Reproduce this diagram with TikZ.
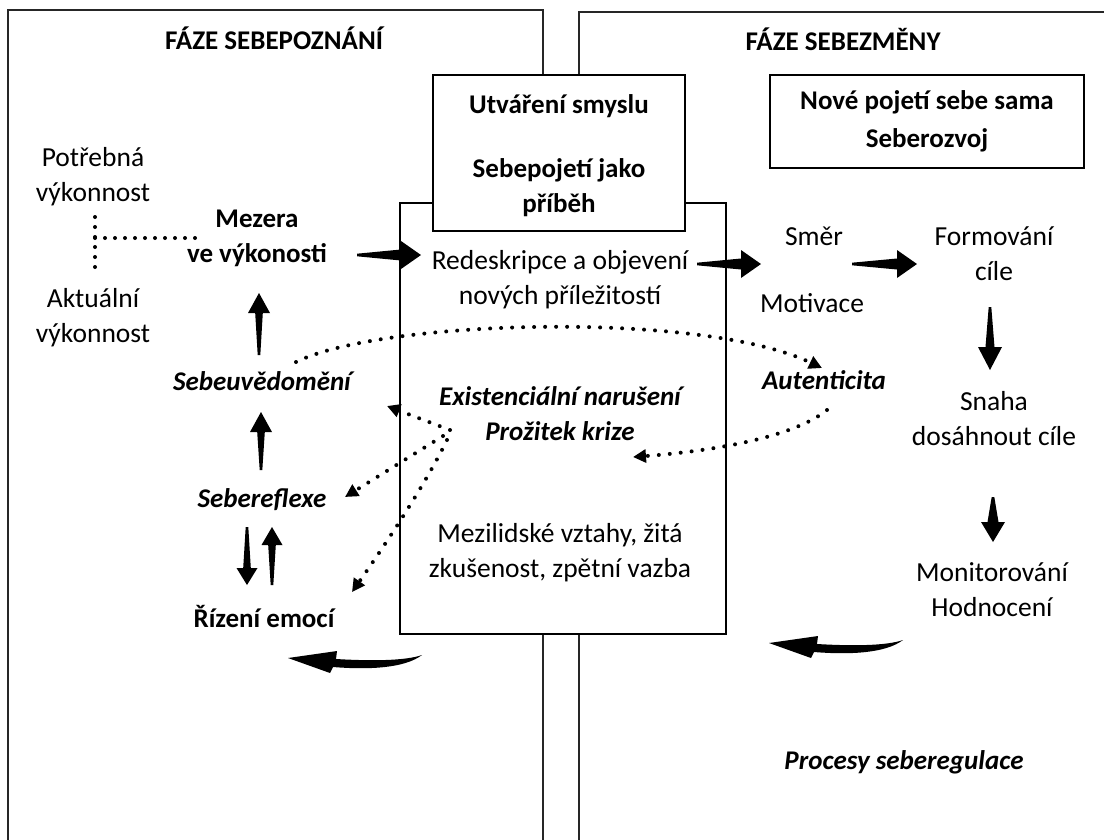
\documentclass[tikz,border=0pt]{standalone}
\usepackage{fontspec}
\setmainfont{Carlito}
\usetikzlibrary{arrows.meta,calc}

\tikzset{
  txt/.style={font=\fontsize{27.5}{35}\selectfont, align=center, inner sep=0pt},
  btxt/.style={txt, font=\fontsize{27}{35}\selectfont\bfseries},
  bitxt/.style={txt, font=\fontsize{27}{35}\selectfont\bfseries\itshape},
  phase/.style={line width=1.3pt, draw=black!85},
  framebox/.style={draw, line width=2pt, inner sep=0pt},
  dotline/.style={line width=4pt, line cap=round, dash pattern=on 0pt off 11pt},
  dotarrow/.style={dotline, -{Triangle[length=13pt,width=13pt]}},
  curvarr/.pic={\fill (0,0) -- (49,-7) -- (48,1) .. controls (82,3) and (117,3) .. (134,-3)
        .. controls (117,10) and (82,12) .. (45,9) -- (42,15) -- cycle;}
}

% tapered thick arrow: start, end, head length, head half width, shaft half width
\newcommand{\fatarrow}[5]{%
  \path let \p1=(#1), \p2=(#2), \n1={atan2(\y2-\y1,\x2-\x1)}, \n2={veclen(\x2-\x1,\y2-\y1)} in
    \pgfextra{\xdef\fatang{\n1}\xdef\fatlen{\n2}\xdef\fatx{\x1}\xdef\faty{\y1}};
  \begin{scope}[shift={(\fatx,\faty)}, rotate=\fatang]
    \fill (0,1.3) -- (0,-1.3) -- (\fatlen-#3,-#5) -- (\fatlen-#3,-#4) -- (\fatlen,0)
      -- (\fatlen-#3,#4) -- (\fatlen-#3,#5) -- cycle;
  \end{scope}
}

\begin{document}
\begin{tikzpicture}[x=1pt, y=-1pt]
\useasboundingbox (0,0) rectangle (1104,839);
\fill[white] (0,0) rectangle (1104,839);
\clip (0,0) rectangle (1104,839);

% phase frames
\draw[phase] (8,850) -- (8,10) -- (543,10) -- (543,850);
\draw[phase] (579,850) -- (579,12) -- (1115,12);

\node[btxt] (t1) at (274,38) {FÁZE SEBEPOZNÁNÍ};
\node[btxt] (t2) at (843,39) {FÁZE SEBEZMĚNY};

% central boxes
\node[draw, fill=white, line width=1.4pt, minimum width=326pt, minimum height=431pt, inner sep=0pt] (tall) at (563,418.5) {};
\node[framebox, fill=white, minimum width=252pt, minimum height=156pt] (ub) at (559,153) {};
\node[btxt] (ubt) at (559,156) {\strut Utváření smyslu\\[29pt]\strut Sebepojetí jako\\\strut příběh};
\node[framebox, btxt, minimum width=314pt, minimum height=93pt] (nb) at (927,121.5)
  {\strut Nové pojetí sebe sama\\[3pt]\strut Seberozvoj};

% left column
\node[txt] (pv) at (93,177) {\strut Potřebná\\\strut výkonnost};
\node[txt] (av) at (93,318) {\strut Aktuální\\\strut výkonnost};
\node[btxt] (mez) at (257,238) {\strut Mezera\\\strut ve výkonosti};
\node[bitxt] (seu) at (262,383) {\strut Sebeuvědomění};
\node[bitxt] (ser) at (262,500) {\strut Sebereflexe};
\node[btxt] (riz) at (264,620) {\strut Řízení emocí};

% middle
\node[txt] (red) at (560,280) {\strut Redeskripce a objevení\\\strut nových příležitostí};
\node[bitxt] (exi) at (560,416) {\strut Existenciální narušení\\\strut Prožitek krize};
\node[txt] (mzl) at (560,553) {\strut Mezilidské vztahy, žitá\\\strut zkušenost, zpětní vazba};

% right column
\node[txt] (smer) at (814,238) {\strut Směr};
\node[txt] (mot) at (812,305) {\strut Motivace};
\node[txt] (form) at (994,256) {\strut Formování\\\strut cíle};
\node[bitxt] (aut) at (824,382) {\strut Autenticita};
\node[txt] (snaha) at (994,421) {\strut Snaha\\\strut dosáhnout cíle};
\node[txt] (mon) at (992,592) {\strut Monitorování\\\strut Hodnocení};
\node[bitxt] (proc) at (904,762) {\strut Procesy seberegulace};

% connector end points
\coordinate (tv1) at (95,217);
\coordinate (tv2) at (95,273);
\coordinate (tj) at (95,238);
\coordinate (th) at (196,238);

\coordinate (a1s) at (357,255);  \coordinate (a1e) at (421,255);
\coordinate (a2s) at (697,264);  \coordinate (a2e) at (761,264);
\coordinate (a3s) at (852,264);  \coordinate (a3e) at (917,264);
\coordinate (a4s) at (990,307);  \coordinate (a4e) at (990,370);
\coordinate (a5s) at (993,497);  \coordinate (a5e) at (993,542);
\coordinate (a6s) at (259,355);  \coordinate (a6e) at (259,293);
\coordinate (a7s) at (261,470);  \coordinate (a7e) at (261,412);
\coordinate (a8s) at (247,527);  \coordinate (a8e) at (247,585);
\coordinate (a9s) at (272,585);  \coordinate (a9e) at (272,527);
\coordinate (cl) at (288,658);
\coordinate (cr) at (769,643);

\coordinate (d1s) at (296,362);  \coordinate (d1e) at (822,368);
\coordinate (d2s) at (827,410);  \coordinate (d2e) at (633,457);
\coordinate (kr1) at (450,430);  \coordinate (d3e) at (387,406);
\coordinate (kr2) at (443,436);  \coordinate (d4e) at (345,497);
\coordinate (kr3) at (447,440);  \coordinate (d5e) at (352,592);

% dotted T
\draw[dotline, dash pattern=on 0pt off 10pt] (tv1) -- (tv2);
\draw[dotline, dash pattern=on 0pt off 10pt] (tj) -- (th);

% thick arrows
\fatarrow{a1s}{a1e}{20}{14}{5.5}
\fatarrow{a2s}{a2e}{20}{14}{5.5}
\fatarrow{a3s}{a3e}{20}{14}{5.5}
\fatarrow{a4s}{a4e}{23}{12}{4.5}
\fatarrow{a5s}{a5e}{20}{12}{5.5}
\fatarrow{a6s}{a6e}{20}{11}{3.8}
\fatarrow{a7s}{a7e}{20}{11}{3.8}
\fatarrow{a8s}{a8e}{17}{10.5}{3.8}
\fatarrow{a9s}{a9e}{18}{10.5}{3.8}

\path (cl) pic {curvarr};
\path (cr) pic {curvarr};

% dotted arrows
\draw[dotarrow] (d1s) .. controls (380,320) and (700,310) .. (d1e);
\draw[dotarrow] (d2s) .. controls (790,440) and (700,452) .. (d2e);
\draw[dotarrow] (kr1) -- (d3e);
\draw[dotarrow] (kr2) -- (d4e);
\draw[dotarrow] (kr3) .. controls (425,485) and (385,545) .. (d5e);
\end{tikzpicture}
\end{document}
